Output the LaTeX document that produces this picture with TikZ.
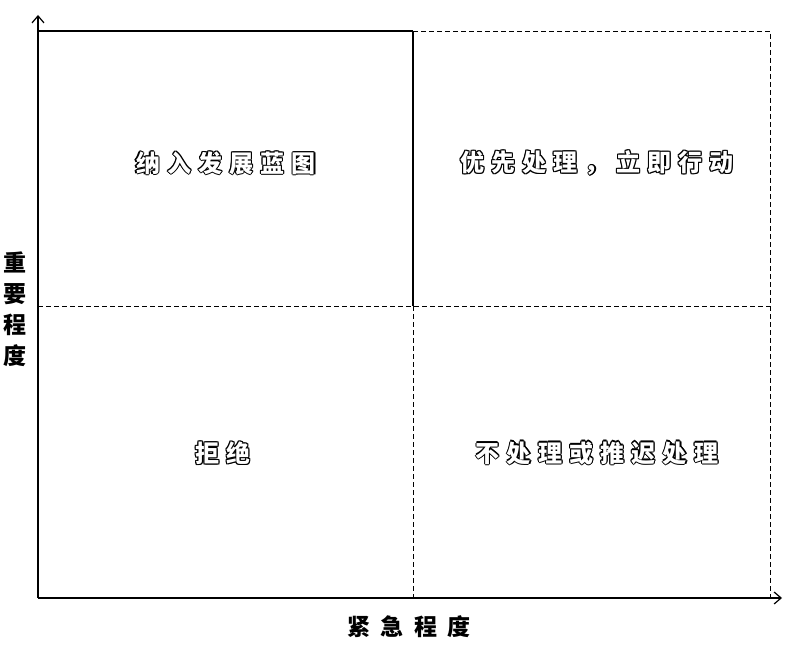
\documentclass[tikz,border=0pt]{standalone}
\usepackage{fontspec}
\newfontfamily\cjkq{Noto Sans CJK SC}[LetterSpace=30]
\newfontfamily\cjkx{Noto Sans CJK SC}[LetterSpace=45]
\newfontfamily\cjky{Noto Sans CJK SC}
\usetikzlibrary{arrows.meta}
\newcommand\myhalo[1]{%
  \rlap{\kern1.1pt#1}\rlap{\kern-1.1pt#1}%
  \rlap{\raisebox{1.1pt}{#1}}\rlap{\raisebox{-1.1pt}{#1}}%
  \rlap{\kern0.8pt\raisebox{0.8pt}{#1}}\rlap{\kern-0.8pt\raisebox{0.8pt}{#1}}%
  \rlap{\kern0.8pt\raisebox{-0.8pt}{#1}}\rlap{\kern-0.8pt\raisebox{-0.8pt}{#1}}%
  {\color{white}#1}}
\tikzset{
  axisline/.style={line width=2pt,-{Straight Barb[length=7pt,width=12pt,line width=1.2pt]}},
  solidedge/.style={line width=2.6pt},
  dashedge/.style={line width=0.9pt,dash pattern=on 5pt off 3pt},
  quadtext/.style={font=\cjkq\bfseries\fontsize{24pt}{28pt}\selectfont,inner sep=0pt},
  axistext/.style={font=\cjky\bfseries\fontsize{23pt}{31pt}\selectfont,inner sep=0pt,align=center}
}
\begin{document}
\begin{tikzpicture}[x=1pt,y=-1pt]
\useasboundingbox (0,0) rectangle (803,650);
% key points
\coordinate (O) at (38,598);
\coordinate (ytip) at (38,15);
\coordinate (xtip) at (782,598);
\coordinate (tl) at (38,31);
\coordinate (tm) at (413,31);
\coordinate (tr) at (770,31);
\coordinate (ml) at (38,306);
\coordinate (mm) at (413,306);
\coordinate (mr) at (770,306);
\coordinate (bm) at (413,598);
\coordinate (br) at (770,598);
% dashed grid
\draw[dashedge] (tm) -- (tr) -- (br);
\draw[dashedge] (ml) -- (mr);
\draw[dashedge] (mm) -- (bm);
% solid top-left box
\draw[solidedge] (tl) -- (tm);
\draw[line width=2pt] (tm) -- (mm);
% axes
\draw[axisline] (O) -- (ytip);
\draw[axisline] (O) -- (xtip);
% quadrant labels
\node[quadtext] (q1) at (226,163) {\myhalo{纳入发展蓝图}};
\node[quadtext] (q2) at (597,163) {\myhalo{优先处理，立即行动}};
\node[quadtext] (q3) at (223,453) {\myhalo{拒绝}};
\node[quadtext] (q4) at (597,453) {\myhalo{不处理或推迟处理}};
% axis labels
\node[axistext] (ylab) at (15,309) {重\\要\\程\\度};
\node[font=\cjkx\bfseries\fontsize{23pt}{26pt}\selectfont,inner sep=0pt] (xlab) at (409,627) {紧急程度};
\end{tikzpicture}
\end{document}
